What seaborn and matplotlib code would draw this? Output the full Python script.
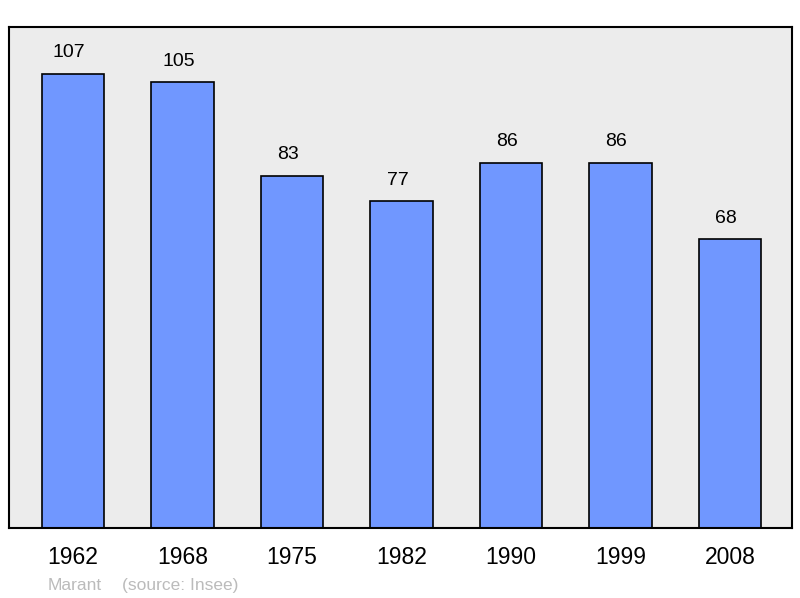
import matplotlib
matplotlib.use("Agg")
import matplotlib.pyplot as plt
import matplotlib.transforms as mtransforms
import seaborn as sns
import pandas as pd

years = ["1962", "1968", "1975", "1982", "1990", "1999", "2008"]
population = [107, 105, 83, 77, 86, 86, 68]

sns.set_style("white")
plt.rcParams['font.family'] = ['Liberation Sans', 'DejaVu Sans']
plt.rcParams['text.color'] = 'black'
plt.rcParams['xtick.color'] = 'black'

df = pd.DataFrame({"year": years, "pop": population})

fig = plt.figure(figsize=(8, 5.98), dpi=100)
ax = fig.add_axes([0.01125, 0.117, 0.97875, 0.838])
ax.set_facecolor("#ececec")

sns.barplot(data=df, x="year", y="pop", color="#7097ff", saturation=1,
            width=0.57, edgecolor="black", linewidth=1.2, ax=ax)

# value labels sit slightly left of the bar centre in the original
shift = mtransforms.offset_copy(ax.transData, fig=fig, x=-3, y=9, units="points")
for i, v in enumerate(population):
    ax.text(i, v, str(v), transform=shift, ha="center", va="bottom",
            fontsize=14, color="black")

ax.set_xlim(-0.585, 6.565)
ax.set_ylim(0, 118)
ax.set_yticks([])
ax.set_xlabel("")
ax.set_ylabel("")
ax.tick_params(axis="x", length=0, labelsize=16.5, pad=13, labelcolor="black")
for s in ax.spines.values():
    s.set_visible(True)
    s.set_color("black")
    s.set_linewidth(1.5)

fig.text(48 / 800, 1 - 590 / 598, "Marant", color="#bbbbbb",
         fontsize=12.5, va="baseline", ha="left")
fig.text(122 / 800, 1 - 590 / 598, "(source: Insee)", color="#bbbbbb",
         fontsize=12.5, va="baseline", ha="left")

fig.savefig("out.png", dpi=100)
